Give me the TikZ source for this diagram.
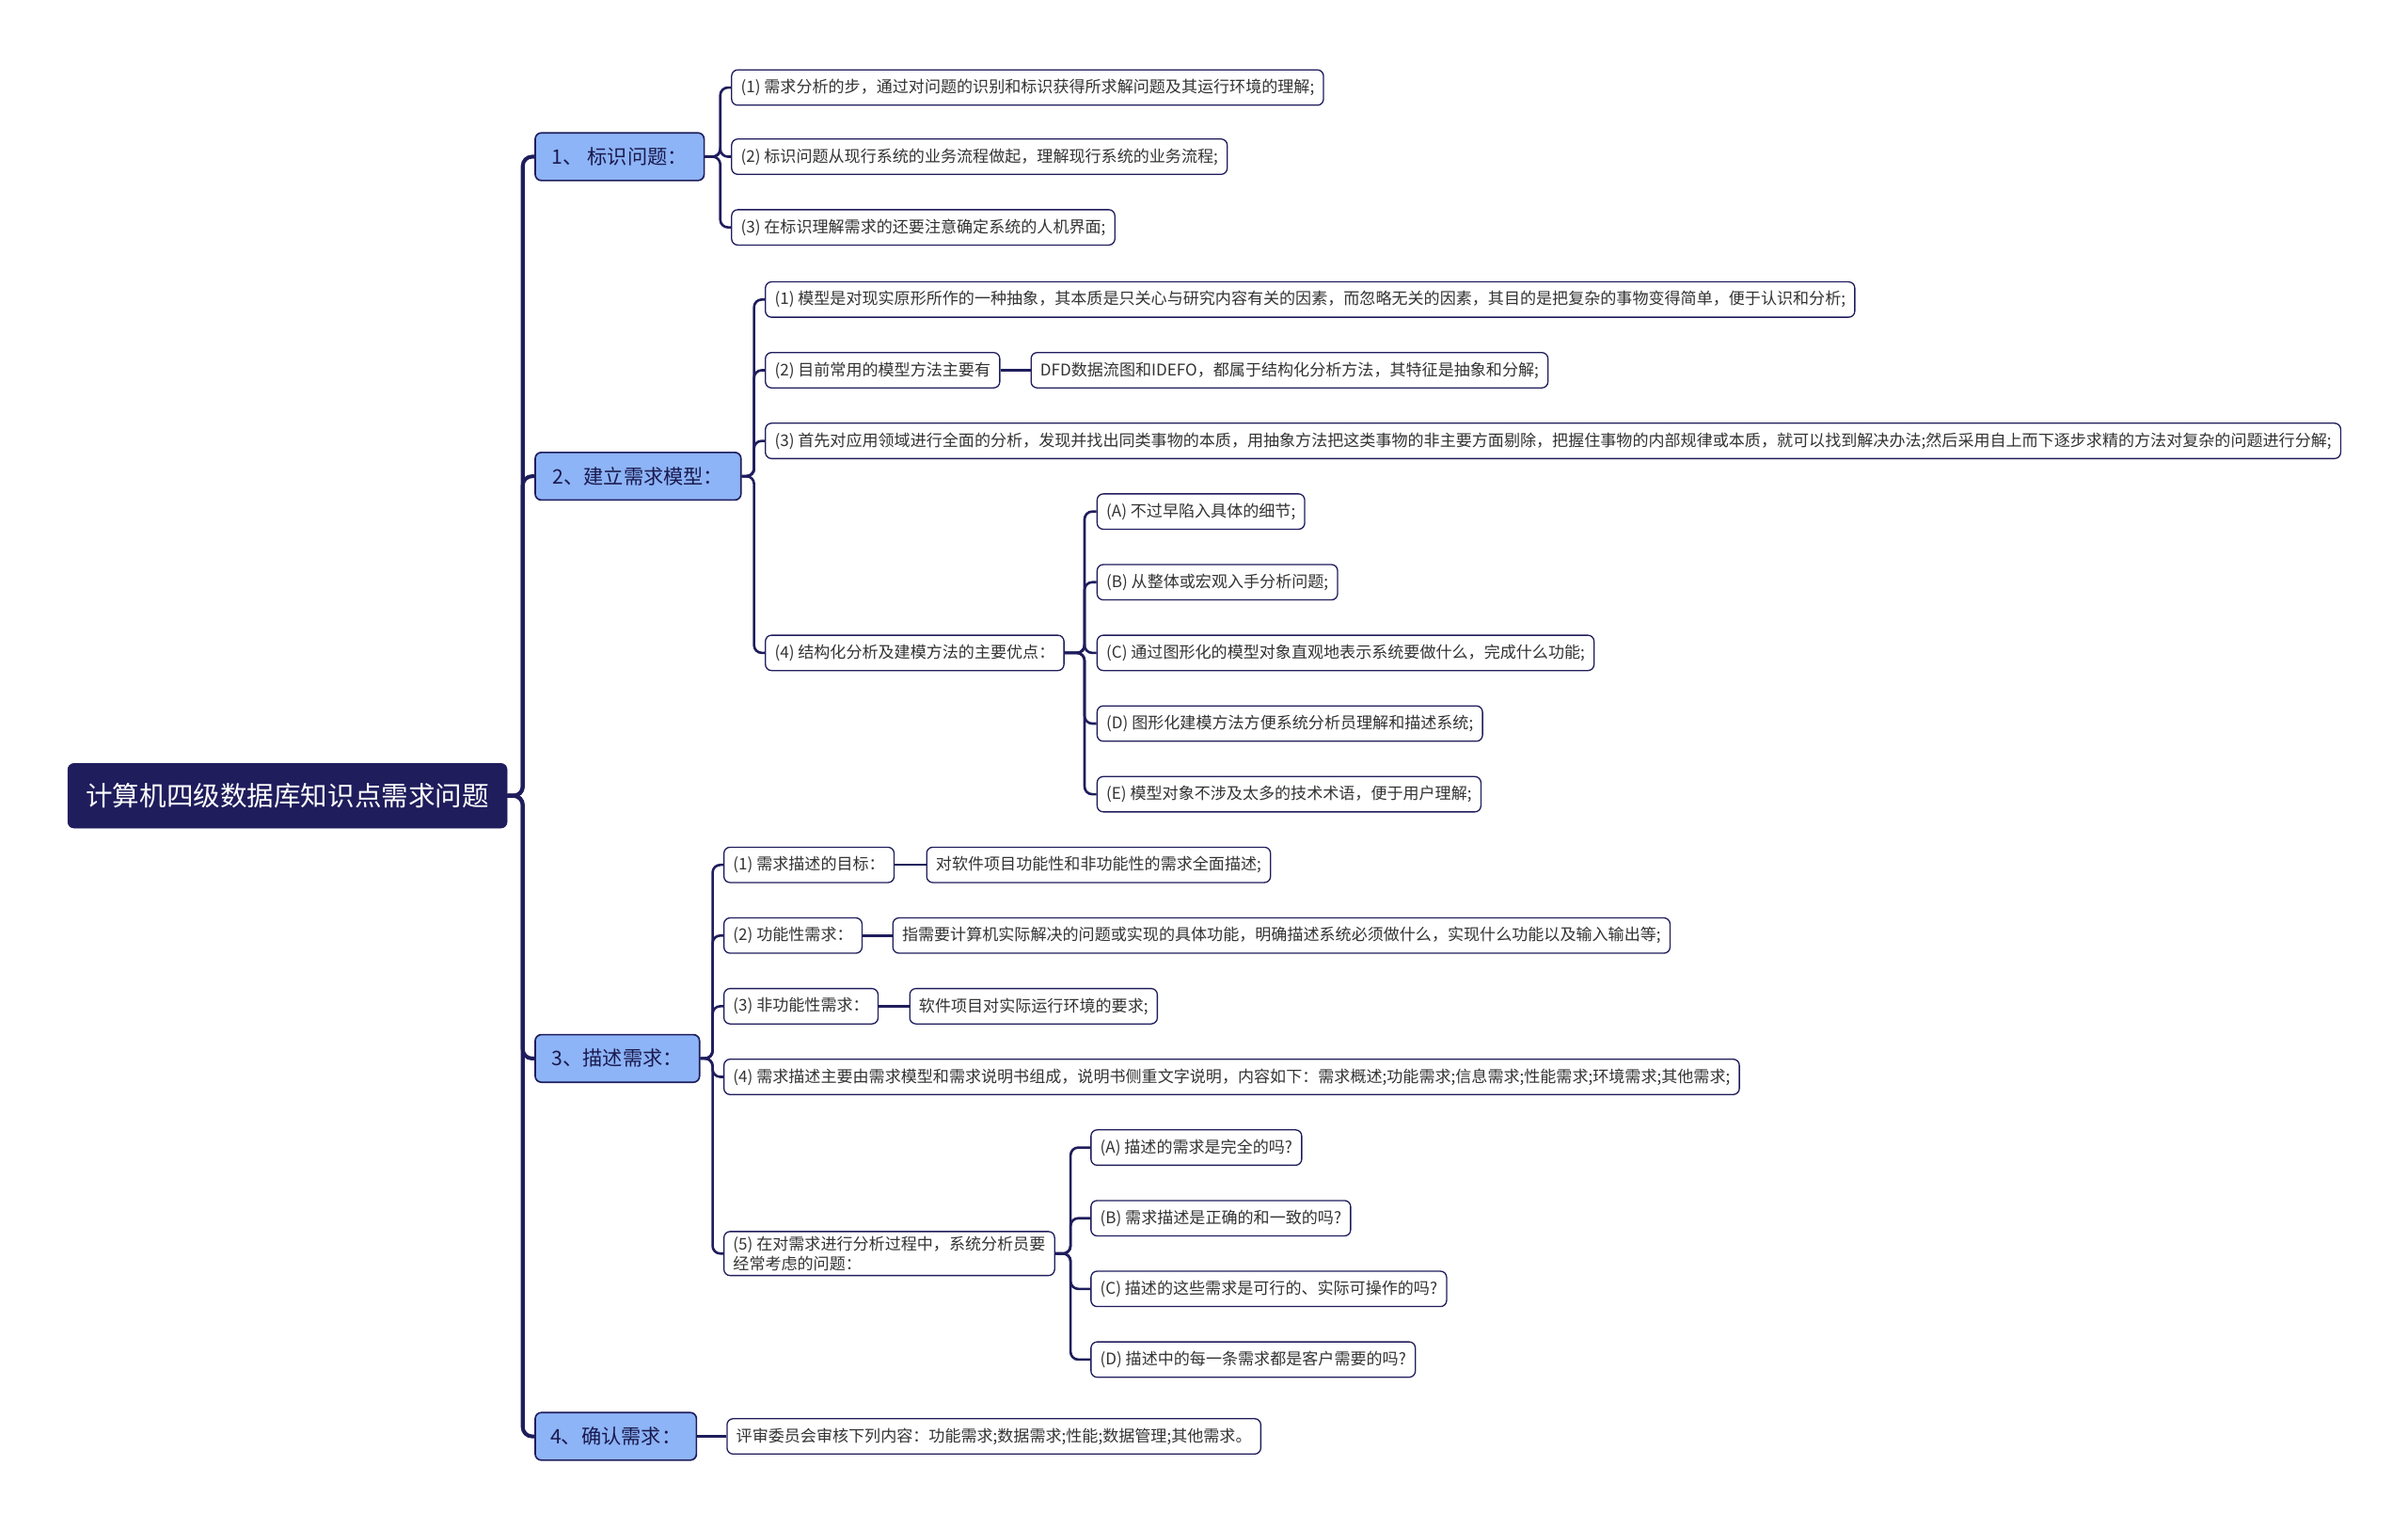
\documentclass[tikz,border=0pt]{standalone}
\usepackage{fontspec}
\newfontfamily\cjk{Noto Sans CJK SC}
\definecolor{navy}{HTML}{1F1D5C}
\definecolor{topicblue}{HTML}{8DB4F6}
\definecolor{leaftext}{HTML}{333333}

\begin{document}
\begin{tikzpicture}[x=1pt,y=-1pt,
    rootbox/.style={draw=navy,fill=navy,text=white,rounded corners=4pt,
      font=\cjk\fontsize{17.5}{20}\selectfont,minimum height=42pt,minimum width=286pt,anchor=west},
    topic/.style={draw=navy,fill=topicblue,line width=1pt,text=navy!85!black,rounded corners=4pt,
      font=\cjk\fontsize{13}{15}\selectfont,minimum height=31pt,inner xsep=8pt,anchor=west},
    leaf/.style={draw=navy,fill=white,line width=0.8pt,text=leaftext,rounded corners=4pt,
      font=\cjk\fontsize{10.45}{13}\selectfont,minimum height=23pt,inner xsep=6pt,inner ysep=3pt,
      anchor=west,align=left},
    trunk/.style={draw=navy,line width=2.5pt,rounded corners=6pt},
    twig/.style={draw=navy,line width=1.6pt,rounded corners=5pt}]
  \useasboundingbox (0,0) rectangle (1568,995);

  \node[rootbox] (root) at (44,518) {计算机四级数据库知识点需求问题};
  \node[topic,minimum width=110pt] (t1) at (348,102) {1、 标识问题：};
  \node[topic,minimum width=134pt] (t2) at (348,310) {2、建立需求模型：};
  \node[topic,minimum width=107pt] (t3) at (348,689) {3、描述需求：};
  \node[topic,minimum width=105pt] (t4) at (348,935) {4、确认需求：};

  \node[leaf] (t1a) at (476,57) {(1) 需求分析的步，通过对问题的识别和标识获得所求解问题及其运行环境的理解;};
  \node[leaf] (t1b) at (476,102) {(2) 标识问题从现行系统的业务流程做起，理解现行系统的业务流程;};
  \node[leaf] (t1c) at (476,148) {(3) 在标识理解需求的还要注意确定系统的人机界面;};

  \node[leaf] (t2a) at (498,195) {(1) 模型是对现实原形所作的一种抽象，其本质是只关心与研究内容有关的因素，而忽略无关的因素，其目的是把复杂的事物变得简单，便于认识和分析;};
  \node[leaf] (t2b) at (498,241) {(2) 目前常用的模型方法主要有};
  \node[leaf] (dfd) at (671,241) {DFD数据流图和IDEFO，都属于结构化分析方法，其特征是抽象和分解;};
  \node[leaf] (t2c) at (498,287) {(3) 首先对应用领域进行全面的分析，发现并找出同类事物的本质，用抽象方法把这类事物的非主要方面剔除，把握住事物的内部规律或本质，就可以找到解决办法;然后采用自上而下逐步求精的方法对复杂的问题进行分解;};
  \node[leaf] (t2d) at (498,425) {(4) 结构化分析及建模方法的主要优点：};
  \node[leaf] (adv1) at (714,333) {(A) 不过早陷入具体的细节;};
  \node[leaf] (adv2) at (714,379) {(B) 从整体或宏观入手分析问题;};
  \node[leaf] (adv3) at (714,425) {(C) 通过图形化的模型对象直观地表示系统要做什么，完成什么功能;};
  \node[leaf] (adv4) at (714,471) {(D) 图形化建模方法方便系统分析员理解和描述系统;};
  \node[leaf] (adv5) at (714,517) {(E) 模型对象不涉及太多的技术术语，便于用户理解;};

  \node[leaf] (t3a) at (471,563) {(1) 需求描述的目标：};
  \node[leaf] (goal) at (603,563) {对软件项目功能性和非功能性的需求全面描述;};
  \node[leaf] (t3b) at (471,609) {(2) 功能性需求：};
  \node[leaf] (func) at (581,609) {指需要计算机实际解决的问题或实现的具体功能，明确描述系统必须做什么，实现什么功能以及输入输出等;};
  \node[leaf] (t3c) at (471,655) {(3) 非功能性需求：};
  \node[leaf] (nonfunc) at (592,655) {软件项目对实际运行环境的要求;};
  \node[leaf] (t3d) at (471,701) {(4) 需求描述主要由需求模型和需求说明书组成，说明书侧重文字说明，内容如下：需求概述;功能需求;信息需求;性能需求;环境需求;其他需求;};
  \node[leaf] (t3e) at (471,816) {(5) 在对需求进行分析过程中，系统分析员要\\经常考虑的问题：};
  \node[leaf] (ask1) at (710,747) {(A) 描述的需求是完全的吗?};
  \node[leaf] (ask2) at (710,793) {(B) 需求描述是正确的和一致的吗?};
  \node[leaf] (ask3) at (710,839) {(C) 描述的这些需求是可行的、实际可操作的吗?};
  \node[leaf] (ask4) at (710,885) {(D) 描述中的每一条需求都是客户需要的吗?};

  \node[leaf] (t4a) at (473,935) {评审委员会审核下列内容：功能需求;数据需求;性能;数据管理;其他需求。};

  \draw[trunk] (root.east) -- ++(10,0) |- (t1.west);
  \draw[trunk] (root.east) -- ++(10,0) |- (t2.west);
  \draw[trunk] (root.east) -- ++(10,0) |- (t3.west);
  \draw[trunk] (root.east) -- ++(10,0) |- (t4.west);

  \draw[twig] (t1.east) -- ++(10,0) |- (t1a.west);
  \draw[twig] (t1.east) -- ++(10,0) |- (t1b.west);
  \draw[twig] (t1.east) -- ++(10,0) |- (t1c.west);

  \draw[twig] (t2.east) -- ++(8,0) |- (t2a.west);
  \draw[twig] (t2.east) -- ++(8,0) |- (t2b.west);
  \draw[twig] (t2.east) -- ++(8,0) |- (t2c.west);
  \draw[twig] (t2.east) -- ++(8,0) |- (t2d.west);
  \draw[twig] (t2b.east) -- (dfd.west);
  \draw[twig] (t2d.east) -- ++(13,0) |- (adv1.west);
  \draw[twig] (t2d.east) -- ++(13,0) |- (adv2.west);
  \draw[twig] (t2d.east) -- ++(13,0) |- (adv3.west);
  \draw[twig] (t2d.east) -- ++(13,0) |- (adv4.west);
  \draw[twig] (t2d.east) -- ++(13,0) |- (adv5.west);

  \draw[twig] (t3.east) -- ++(8,0) |- (t3a.west);
  \draw[twig] (t3.east) -- ++(8,0) |- (t3b.west);
  \draw[twig] (t3.east) -- ++(8,0) |- (t3c.west);
  \draw[twig] (t3.east) -- ++(8,0) |- (t3d.west);
  \draw[twig] (t3.east) -- ++(8,0) |- (t3e.west);
  \draw[twig] (t3a.east) -- (goal.west);
  \draw[twig] (t3b.east) -- (func.west);
  \draw[twig] (t3c.east) -- (nonfunc.west);
  \draw[twig] (t3e.east) -- ++(10,0) |- (ask1.west);
  \draw[twig] (t3e.east) -- ++(10,0) |- (ask2.west);
  \draw[twig] (t3e.east) -- ++(10,0) |- (ask3.west);
  \draw[twig] (t3e.east) -- ++(10,0) |- (ask4.west);

  \draw[twig] (t4.east) -- (t4a.west);
\end{tikzpicture}
\end{document}
